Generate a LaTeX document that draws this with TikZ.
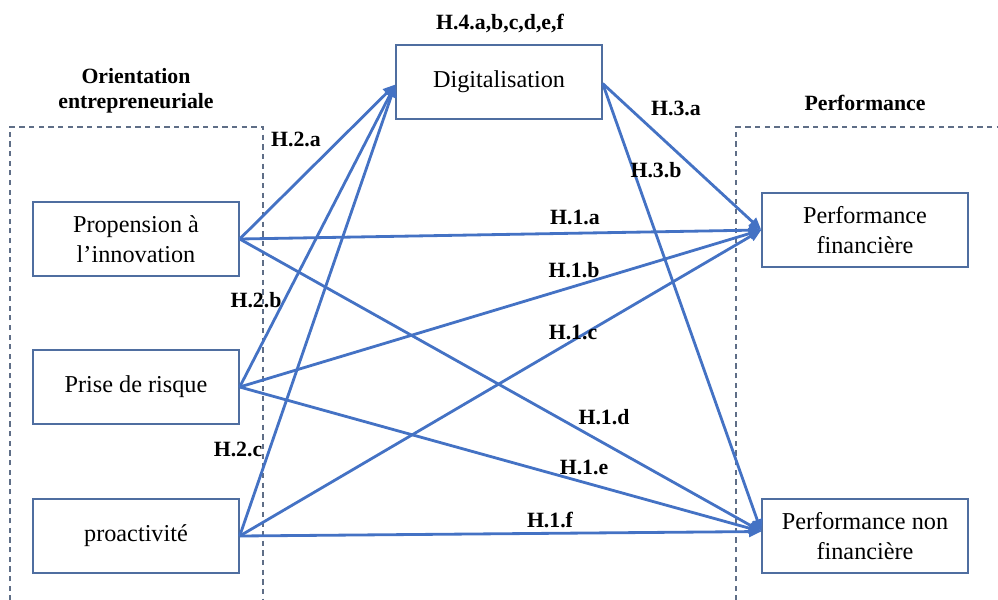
\documentclass[tikz,border=0pt]{standalone}
\usepackage{fontspec}
\setmainfont{Liberation Serif}
\usetikzlibrary{arrows.meta}
\definecolor{arrblue}{RGB}{68,114,196}
\definecolor{boxblue}{RGB}{79,110,160}
\definecolor{dashgray}{RGB}{95,110,135}
\tikzset{
  box/.style={draw=boxblue, line width=0.8pt, minimum width=4.12cm, minimum height=1.48cm, inner sep=0pt, align=center, font=\fontsize{13.8}{17}\selectfont},
  lbl/.style={font=\fontsize{12.4}{14.5}\selectfont\bfseries, inner sep=0pt, align=center},
  conn/.style={draw=arrblue, line width=1.6pt, -{Triangle[length=7pt,width=6pt]}},
  grp/.style={draw=dashgray, line width=0.6pt, dash pattern=on 3pt off 2.5pt}
}
\begin{document}
\begin{tikzpicture}[x=0.02cm,y=-0.02cm]
\useasboundingbox (0,0) rectangle (998,599);
\clip (0,0) rectangle (998,599);
% group frames
\draw[grp] (10,620) -- (10,127) -- (263,127) -- (263,620);
\draw[grp] (736,620) -- (736,127) -- (1020,127);
% nodes
\node[box] (prop) at (136,239) {Propension à\\l’innovation};
\node[box] (risk) at (136,387) {Prise de risque};
\node[box] (proa) at (136,536) {proactivité};
\node[box] (dig) at (499,82) {Digitalisation};
\node[box] (fin) at (865,230) {Performance\\financière};
\node[box] (nfin) at (865,536) {Performance non\\financière};
% titles
\node[lbl] (tor) at (136,91) {Orientation\\entrepreneuriale};
\node[lbl] (tperf) at (865,103) {Performance};
\node[lbl] (th4) at (500,24) {H.4.a,b,c,d,e,f};
% connectors
\coordinate (digin) at ([yshift=-0.05cm]dig.west);
\coordinate (digout) at ([yshift=-0.03cm]dig.east);
\coordinate (nfinin) at ([yshift=0.09cm]nfin.west);
\draw[conn] (prop.east) -- (digin);
\draw[conn] (risk.east) -- (digin);
\draw[conn] (proa.east) -- (digin);
\draw[conn] (prop.east) -- (fin.west);
\draw[conn] (prop.east) -- (nfinin);
\draw[conn] (risk.east) -- (fin.west);
\draw[conn] (risk.east) -- (nfinin);
\draw[conn] (proa.east) -- (fin.west);
\draw[conn] (proa.east) -- (nfinin);
\draw[conn] (digout) -- (fin.west);
\draw[conn] (digout) -- (nfinin);
% hypothesis labels
\node[lbl] (h2a) at (296,139) {H.2.a};
\node[lbl] (h2b) at (256,300) {H.2.b};
\node[lbl] (h2c) at (238,449) {H.2.c};
\node[lbl] (h3a) at (676,108) {H.3.a};
\node[lbl] (h3b) at (656,170) {H.3.b};
\node[lbl] (h1a) at (575,217) {H.1.a};
\node[lbl] (h1b) at (574,270) {H.1.b};
\node[lbl] (h1c) at (573,332) {H.1.c};
\node[lbl] (h1d) at (604,417) {H.1.d};
\node[lbl] (h1e) at (584,467) {H.1.e};
\node[lbl] (h1f) at (550,520) {H.1.f};
\end{tikzpicture}
\end{document}
